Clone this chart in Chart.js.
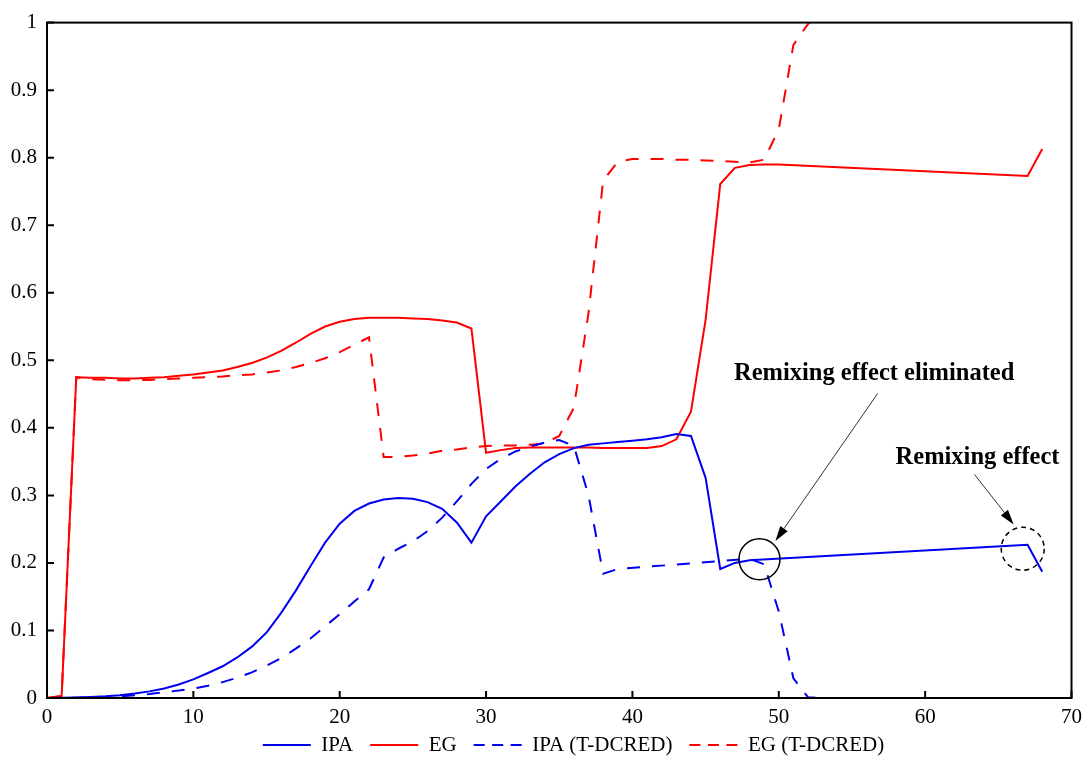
<!DOCTYPE html>
<html>
<head>
<meta charset="utf-8">
<script src="https://cdn.jsdelivr.net/npm/chart.js@4.4.1/dist/chart.umd.min.js"></script>
<style>
  html, body { margin: 0; padding: 0; background: #fff; }
  #wrap { width: 1089px; height: 761px; position: relative; }
</style>
</head>
<body>
<div id="wrap"><canvas id="chart"></canvas></div>
<script>
// Dữ liệu (trục x: 0-70, trục y: 0-1)
const ipaX = [0,1,2,3,4,5,6,7,8,9,10,11,12,13,14,15,16,17,18,19,20,21,22,23,24,25,26,27,28,29,30,31,32,33,34,35,36,37,38,39,40,41,42,43,44,45,46,47,48,67,68];
const ipaY = [0,0.0003,0.0008,0.0015,0.0025,0.004,0.0065,0.0098,0.014,0.02,0.0275,0.037,0.047,0.06,0.076,0.097,0.126,0.159,0.195,0.23,0.258,0.277,0.288,0.294,0.296,0.295,0.29,0.28,0.26,0.23,0.269,0.291,0.313,0.332,0.349,0.361,0.37,0.375,0.377,0.379,0.381,0.383,0.386,0.391,0.388,0.326,0.191,0.2,0.204,0.227,0.187];

const egX = [0,1,2,3,4,5,6,7,8,9,10,11,12,13,14,15,16,17,18,19,20,21,22,23,24,25,26,27,28,29,30,31,32,33,34,35,36,37,38,39,40,41,42,43,44,45,46,47,48,49,50,67,68];
const egY = [0,0.003,0.475,0.474,0.474,0.473,0.473,0.474,0.475,0.477,0.479,0.482,0.485,0.49,0.496,0.504,0.514,0.526,0.539,0.55,0.557,0.561,0.563,0.563,0.563,0.562,0.561,0.559,0.556,0.547,0.363,0.367,0.37,0.371,0.371,0.371,0.371,0.371,0.37,0.37,0.37,0.37,0.373,0.383,0.424,0.56,0.761,0.785,0.789,0.79,0.79,0.773,0.813];

const ipaTX = [0,1,2,3,4,5,6,7,8,9,10,11,12,13,14,15,16,17,18,19,20,21,22,23,24,25,26,27,28,29,30,31,32,33,34,35,36,37,38,39,48,49,50,51,52,53];
const ipaTY = [0,0,0.0003,0.0008,0.0015,0.0025,0.004,0.006,0.0085,0.011,0.014,0.018,0.0235,0.03,0.038,0.048,0.059,0.073,0.088,0.106,0.124,0.143,0.161,0.208,0.221,0.232,0.247,0.267,0.291,0.317,0.339,0.354,0.365,0.372,0.378,0.382,0.373,0.3,0.184,0.191,0.206,0.198,0.128,0.029,0.001,0];

const egTX = [0,1,2,3,4,5,6,7,8,9,10,11,12,13,14,15,16,17,18,19,20,21,22,23,24,25,26,27,28,29,30,31,32,33,34,35,36,37,38,39,40,41,42,43,44,45,46,47,48,49,50,51,52,53];
const egTY = [0,0.003,0.475,0.472,0.471,0.4705,0.4705,0.471,0.472,0.473,0.474,0.475,0.476,0.478,0.479,0.482,0.485,0.49,0.496,0.503,0.512,0.523,0.534,0.357,0.357,0.359,0.362,0.366,0.368,0.371,0.373,0.374,0.374,0.375,0.377,0.388,0.43,0.57,0.766,0.794,0.798,0.798,0.798,0.797,0.797,0.796,0.795,0.794,0.793,0.797,0.842,0.967,0.998,1.02];

const seriesNames = ['IPA', 'EG', 'IPA (T-DCRED)', 'EG (T-DCRED)'];
const xTicks = [0, 10, 20, 30, 40, 50, 60, 70];
const yTicks = [0, 0.1, 0.2, 0.3, 0.4, 0.5, 0.6, 0.7, 0.8, 0.9, 1];

const BLUE = '#0000f0';
const RED = '#ff0000';
const SERIF = "'Liberation Serif', 'Times New Roman', serif";
const DASH = [13, 12];
const LEGEND_DASH = [11, 7.5];

function toPoints(xs, ys) {
    return xs.map((x, i) => ({ x: x, y: ys[i] }));
}

// Khung trục và vạch chia hướng vào trong
const framePlugin = {
    id: 'frame',
    afterDatasetsDraw(chart) {
        const { ctx, chartArea: a, scales } = chart;
        ctx.save();
        ctx.strokeStyle = '#000';
        ctx.lineWidth = 2;
        ctx.strokeRect(a.left, a.top, a.right - a.left, a.bottom - a.top);
        ctx.beginPath();
        xTicks.forEach(v => {
            const px = scales.x.getPixelForValue(v);
            ctx.moveTo(px, a.bottom);
            ctx.lineTo(px, a.bottom - 7);
        });
        yTicks.forEach(v => {
            const py = scales.y.getPixelForValue(v);
            ctx.moveTo(a.left, py);
            ctx.lineTo(a.left + 7, py);
        });
        ctx.stroke();
        ctx.restore();
    }
};

// Vẽ mũi tên
function drawArrow(ctx, x1, y1, x2, y2) {
    const ang = Math.atan2(y2 - y1, x2 - x1);
    const len = 15, half = 4.5;
    ctx.beginPath();
    ctx.strokeStyle = '#333';
    ctx.lineWidth = 1;
    ctx.moveTo(x1, y1);
    ctx.lineTo(x2 - Math.cos(ang) * len, y2 - Math.sin(ang) * len);
    ctx.stroke();
    ctx.beginPath();
    ctx.fillStyle = '#000';
    ctx.moveTo(x2, y2);
    ctx.lineTo(x2 - Math.cos(ang) * len - Math.sin(ang) * half, y2 - Math.sin(ang) * len + Math.cos(ang) * half);
    ctx.lineTo(x2 - Math.cos(ang) * len + Math.sin(ang) * half, y2 - Math.sin(ang) * len - Math.cos(ang) * half);
    ctx.closePath();
    ctx.fill();
}

// Chú thích "Remixing effect"
const notePlugin = {
    id: 'notes',
    afterDatasetsDraw(chart) {
        const { ctx, scales } = chart;
        const X = v => scales.x.getPixelForValue(v);
        const Y = v => scales.y.getPixelForValue(v);
        ctx.save();

        ctx.strokeStyle = '#000';
        ctx.lineWidth = 1.5;
        ctx.beginPath();
        ctx.arc(X(48.68), Y(0.2055), 20.5, 0, Math.PI * 2);
        ctx.stroke();

        ctx.setLineDash([5, 4]);
        ctx.beginPath();
        ctx.arc(X(66.67), Y(0.221), 21.5, 0, Math.PI * 2);
        ctx.stroke();
        ctx.setLineDash([]);

        drawArrow(ctx, X(56.76), Y(0.451), X(49.77), Y(0.2325));
        drawArrow(ctx, X(63.37), Y(0.331), X(66.05), Y(0.257));

        ctx.fillStyle = '#000';
        ctx.font = 'bold 24.5px ' + SERIF;
        ctx.textAlign = 'left';
        ctx.textBaseline = 'alphabetic';
        ctx.fillText('Remixing effect eliminated', X(46.94), Y(0.471));
        ctx.fillText('Remixing effect', X(57.98), Y(0.347));
        ctx.restore();
    }
};

// Dời chú giải xuống đúng vị trí
const legendShift = {
    id: 'legendShift',
    afterLayout(chart) {
        const lg = chart.legend;
        if (!lg) return;
        const dx = 35.5;
        const h = lg.bottom - lg.top;
        lg.left += dx; lg.right += dx;
        lg.top = 717.5; lg.bottom = 717.5 + h;
    }
};

const ctx = document.getElementById('chart').getContext('2d');
const chart = new Chart(ctx, {
    type: 'line',
    data: {
        datasets: [
            { label: seriesNames[0], data: toPoints(ipaX, ipaY), borderColor: BLUE, backgroundColor: BLUE, borderWidth: 2 },
            { label: seriesNames[1], data: toPoints(egX, egY), borderColor: RED, backgroundColor: RED, borderWidth: 2 },
            { label: seriesNames[2], data: toPoints(ipaTX, ipaTY), borderColor: BLUE, backgroundColor: BLUE, borderWidth: 2, borderDash: DASH },
            { label: seriesNames[3], data: toPoints(egTX, egTY), borderColor: RED, backgroundColor: RED, borderWidth: 2, borderDash: DASH }
        ]
    },
    options: {
        responsive: true,
        maintainAspectRatio: false,
        animation: false,
        devicePixelRatio: 1,
        layout: { padding: { top: 19, right: 13, left: 0, bottom: -19 } },
        elements: {
            point: { radius: 0, hoverRadius: 0 },
            line: { tension: 0, borderJoinStyle: 'miter' }
        },
        scales: {
            x: {
                type: 'linear',
                min: 0,
                max: 70,
                afterBuildTicks: s => { s.ticks = xTicks.map(v => ({ value: v })); },
                afterFit: s => { s.height = 34; },
                grid: { display: false, drawTicks: false },
                border: { display: false },
                ticks: {
                    color: '#000',
                    padding: 7,
                    maxRotation: 0,
                    autoSkip: false,
                    font: { family: SERIF, size: 21 }
                }
            },
            y: {
                type: 'linear',
                min: 0,
                max: 1,
                afterBuildTicks: s => { s.ticks = yTicks.map(v => ({ value: v })); },
                afterFit: s => { s.width = 47; },
                grid: { display: false, drawTicks: false },
                border: { display: false },
                ticks: {
                    color: '#000',
                    padding: 10,
                    font: { family: SERIF, size: 21 },
                    callback: v => String(+v.toFixed(1))
                }
            }
        },
        plugins: {
            legend: {
                position: 'bottom',
                labels: {
                    usePointStyle: true,
                    pointStyle: 'line',
                    pointStyleWidth: 48,
                    color: '#000',
                    padding: 17,
                    font: { family: SERIF, size: 21 },
                    generateLabels: c => {
                        const items = Chart.defaults.plugins.legend.labels.generateLabels(c);
                        items.forEach(it => {
                            const ds = c.data.datasets[it.datasetIndex];
                            it.lineDash = ds.borderDash ? LEGEND_DASH : [];
                            it.lineWidth = 2;
                            it.strokeStyle = ds.borderColor;
                        });
                        return items;
                    }
                }
            },
            tooltip: { enabled: false }
        }
    },
    plugins: [framePlugin, notePlugin, legendShift]
});
</script>
</body>
</html>
